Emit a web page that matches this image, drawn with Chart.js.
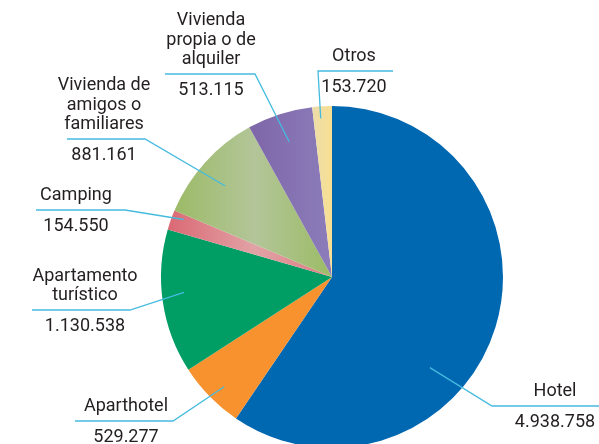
<!DOCTYPE html>
<html>
<head>
<meta charset="utf-8">
<script src="https://cdn.jsdelivr.net/npm/chart.js@4/dist/chart.umd.min.js"></script>
<style>
    html, body { margin: 0; padding: 0; background: #fff; overflow: hidden; }
    #wrap { width: 599px; height: 444px; overflow: hidden; }
</style>
</head>
<body>
<div id="wrap"><canvas id="pieChart" width="599" height="460"></canvas></div>
<script>
// Alojamiento utilizado (viajeros)
const categories = [
    ['Hotel'],
    ['Aparthotel'],
    ['Apartamento', 'turístico'],
    ['Camping'],
    ['Vivienda de', 'amigos o', 'familiares'],
    ['Vivienda', 'propia o de', 'alquiler'],
    ['Otros']
];
const travellers = [4938758, 529277, 1130538, 154550, 881161, 513115, 153720];

// where each callout sits: point inside the slice (t along the arc, rf of radius),
// elbow of the leader line, far end of the underline and text centre
const calloutLayout = [
    { t: 0.62, rf: 0.78, knee: [492, 406], end: 599, textX: 555 },
    { t: 0.45, rf: 0.90, knee: [173, 421], end: 75, textX: 126 },
    { t: 0.55, rf: 0.87, knee: [130, 310], end: 32, textX: 85 },
    { t: 0.75, rf: 0.93, knee: [125, 210], end: 36, textX: 76 },
    { t: 0.46, rf: 0.82, knee: [145, 139], end: 67, textX: 104 },
    { t: 0.51, rf: 0.83, knee: [255, 74], end: 165, textX: 211 },
    { t: 0.39, rf: 0.93, knee: [318, 71], end: 393, textX: 354 }
];

const FONT = '18px Roboto';
const TEXT_COLOR = '#231f20';
const LINE_COLOR = '#45bbdf';

function formatNumber(n) {
    return String(n).replace(/\B(?=(\d{3})+(?!\d))/g, '.');
}

// horizontal gradients for the slices on the left half of the pie
function sliceFill(context) {
    const chart = context.chart;
    const area = chart.chartArea;
    const solid = ['#0067b1', '#f7922f', '#009e65'];
    const i = context.dataIndex;
    if (!area) return '#ccc';
    if (i < 3) return solid[i];
    const left = area.left;
    const cx = (area.left + area.right) / 2;
    const g = chart.ctx.createLinearGradient(left, 0, cx, 0);
    if (i === 3) {
        g.addColorStop(0, '#da6470');
        g.addColorStop(0.55, '#e1a3a6');
        g.addColorStop(1, '#dc7b80');
    } else if (i === 4) {
        g.addColorStop(0, '#98b95f');
        g.addColorStop(0.55, '#b3c599');
        g.addColorStop(1, '#9bbc65');
    } else if (i === 5) {
        g.addColorStop(0.45, '#7c63a6');
        g.addColorStop(1, '#8c7dba');
    } else {
        g.addColorStop(0.85, '#e8dcb0');
        g.addColorStop(1, '#f8df92');
    }
    return g;
}

const calloutPlugin = {
    id: 'callouts',
    afterDatasetsDraw(chart) {
        const ctx = chart.ctx;
        const arcs = chart.getDatasetMeta(0).data;
        ctx.save();
        arcs.forEach((arc, i) => {
            const lay = calloutLayout[i];
            const a = arc.startAngle + lay.t * (arc.endAngle - arc.startAngle);
            const r = arc.outerRadius * lay.rf;
            const px = arc.x + Math.cos(a) * r;
            const py = arc.y + Math.sin(a) * r;
            const [kx, ky] = lay.knee;

            ctx.strokeStyle = LINE_COLOR;
            ctx.lineWidth = 1.3;
            ctx.beginPath();
            ctx.moveTo(px, py);
            ctx.lineTo(kx, ky);
            ctx.lineTo(lay.end, ky);
            ctx.stroke();

            ctx.fillStyle = TEXT_COLOR;
            ctx.font = FONT;
            ctx.textAlign = 'center';
            ctx.textBaseline = 'alphabetic';
            const lines = categories[i];
            lines.forEach((line, j) => {
                const y = ky - 10 - (lines.length - 1 - j) * 19.5;
                ctx.fillText(line, lay.textX, y);
            });
            ctx.fillText(formatNumber(travellers[i]), lay.textX, ky + 21);
        });
        ctx.restore();
    }
};

const ctx = document.getElementById('pieChart').getContext('2d');
new Chart(ctx, {
    type: 'pie',
    data: {
        labels: categories.map(l => l.join(' ')),
        datasets: [{
            data: travellers,
            backgroundColor: sliceFill,
            borderWidth: 0
        }]
    },
    options: {
        responsive: false,
        animation: false,
        layout: { padding: { left: 161, right: 96, top: 106, bottom: 12 } },
        plugins: {
            legend: { display: false },
            tooltip: { enabled: false }
        }
    },
    plugins: [calloutPlugin]
});
</script>
</body>
</html>
